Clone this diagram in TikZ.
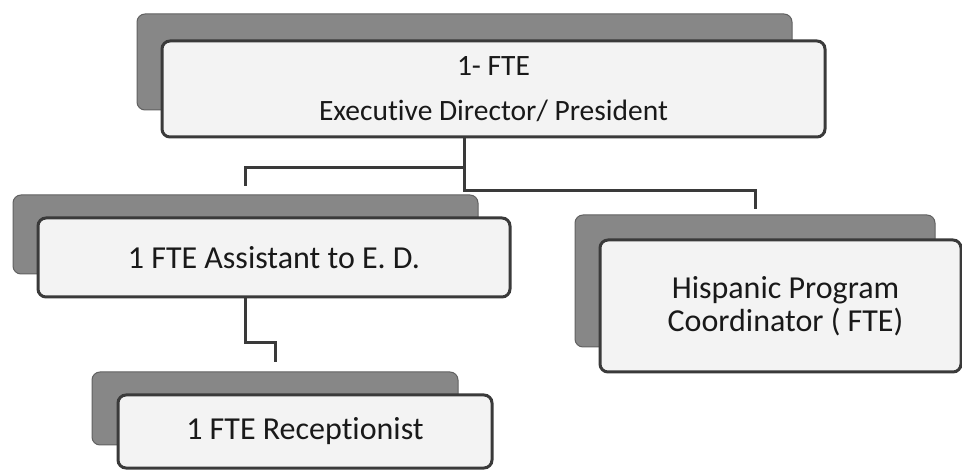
\documentclass[tikz,border=0pt]{standalone}
\usepackage{fontspec}
\setmainfont[Ligatures=NoCommon]{Carlito}
\definecolor{boxline}{HTML}{3A3A3A}
\definecolor{platefill}{HTML}{878787}
\definecolor{cardfill}{HTML}{F3F3F3}

\begin{document}
\begin{tikzpicture}[x=1pt,y=-1pt,
card/.style={rectangle,rounded corners=8pt,draw=boxline,line width=3pt,fill=cardfill,
 inner sep=0pt,align=center,text=black!90,font=\fontsize{32}{33}\selectfont},
plate/.style={rectangle,rounded corners=8pt,draw=boxline!80,line width=1pt,fill=platefill,inner sep=0pt},
link/.style={draw=boxline,line width=3pt}]
 \useasboundingbox (0,0) rectangle (962,470);
 % back plates
 \node[plate, minimum width=655pt, minimum height=96pt] (ed-sh) at (464.5,62) {};
 \node[plate, minimum width=465pt, minimum height=79pt] (asst-sh) at (245.5,234.5) {};
 \node[plate, minimum width=366pt, minimum height=73pt] (recp-sh) at (275,408.5) {};
 \node[plate, minimum width=360pt, minimum height=132pt] (hpc-sh) at (755,281) {};
 % connectors
 \draw[link] (ed-sh.south) -- ++(0,57) -| ([yshift=8pt]asst-sh.north);
 \draw[link] (ed-sh.south) -- ++(0,80) -| ([yshift=5pt]hpc-sh.north);
 \draw[link] (asst-sh.south) -- ++(0,68) -| ([yshift=9pt]recp-sh.north);
 % front cards
 \node[card, minimum width=663pt, minimum height=96pt, font=\fontsize{29.5}{45}\selectfont]
 (ed) at (493.5,89) {1- FTE\\Executive Director/ President};
 \node[card, minimum width=472pt, minimum height=79pt] (asst) at (274,257.5) {1 FTE Assistant to E. D.};
 \node[card, minimum width=374pt, minimum height=73pt] (recp) at (305,431.5) {1 FTE Receptionist};
 \node[card, minimum width=361pt, minimum height=132pt] (hpc) at (780.5,306)
 {\hspace{10pt}Hispanic Program\\\hspace{10pt}Coordinator ( FTE)};
\end{tikzpicture}
\end{document}
